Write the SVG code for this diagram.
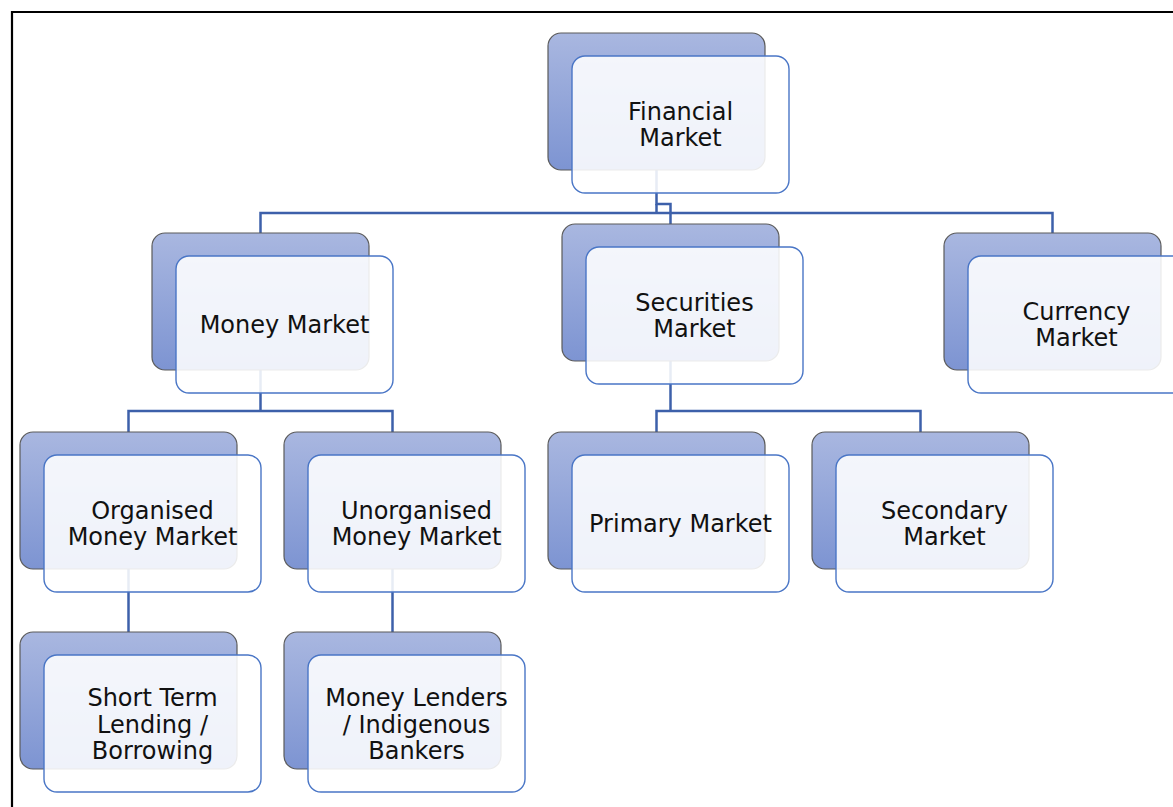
<svg xmlns="http://www.w3.org/2000/svg" width="1173" height="807" viewBox="0 0 1173 807">
<defs>
<linearGradient id="bg" x1="0" y1="0" x2="0" y2="1">
<stop offset="0" stop-color="#a9b7e0"/>
<stop offset="1" stop-color="#7d94d2"/>
</linearGradient>
</defs>
<style>
.back{fill:url(#bg);stroke:#5b5b5b;stroke-width:1.2}
.front{fill:#ffffff;fill-opacity:0.88;stroke:#4a76c6;stroke-width:1.4}
.conn{fill:none;stroke:#3d60aa;stroke-width:2.5}
text{font-family:"DejaVu Sans",Verdana,sans-serif;font-size:24px;fill:#111;text-anchor:middle}
</style>
<rect width="1173" height="807" fill="#fff"/>
<path d="M12,807 V12 H1173" fill="none" stroke="#000" stroke-width="2.2"/>
<g id="connectors" class="conn">
<path d="M656.5,170 V204 H670.5 V224"/>
<path d="M656.5,204 V213"/>
<path d="M260.5,233 V213 H1052.5 V233"/>
<path d="M260.5,370 V411"/>
<path d="M128.5,432 V411 H392.5 V432"/>
<path d="M670.5,361 V411"/>
<path d="M656.5,432 V411 H920.5 V432"/>
<path d="M128.5,569 V632"/>
<path d="M392.5,569 V632"/>
</g>
<g id="financial-market">
<rect class="back" x="548" y="33" width="217" height="137" rx="13"/>
<rect class="front" x="572" y="56" width="217" height="137" rx="13"/>
<text x="680.5" y="119.5">Financial</text>
<text x="680.5" y="146">Market</text>
</g>
<g id="money-market">
<rect class="back" x="152" y="233" width="217" height="137" rx="13"/>
<rect class="front" x="176" y="256" width="217" height="137" rx="13"/>
<text x="284.5" y="333">Money Market</text>
</g>
<g id="securities-market">
<rect class="back" x="562" y="224" width="217" height="137" rx="13"/>
<rect class="front" x="586" y="247" width="217" height="137" rx="13"/>
<text x="694.5" y="310.5">Securities</text>
<text x="694.5" y="337">Market</text>
</g>
<g id="currency-market">
<rect class="back" x="944" y="233" width="217" height="137" rx="13"/>
<rect class="front" x="968" y="256" width="217" height="137" rx="13"/>
<text x="1076.5" y="319.5">Currency</text>
<text x="1076.5" y="346">Market</text>
</g>
<g id="organised-money-market">
<rect class="back" x="20" y="432" width="217" height="137" rx="13"/>
<rect class="front" x="44" y="455" width="217" height="137" rx="13"/>
<text x="152.5" y="518.5">Organised</text>
<text x="152.5" y="545">Money Market</text>
</g>
<g id="unorganised-money-market">
<rect class="back" x="284" y="432" width="217" height="137" rx="13"/>
<rect class="front" x="308" y="455" width="217" height="137" rx="13"/>
<text x="416.5" y="518.5">Unorganised</text>
<text x="416.5" y="545">Money Market</text>
</g>
<g id="primary-market">
<rect class="back" x="548" y="432" width="217" height="137" rx="13"/>
<rect class="front" x="572" y="455" width="217" height="137" rx="13"/>
<text x="680.5" y="532">Primary Market</text>
</g>
<g id="secondary-market">
<rect class="back" x="812" y="432" width="217" height="137" rx="13"/>
<rect class="front" x="836" y="455" width="217" height="137" rx="13"/>
<text x="944.5" y="518.5">Secondary</text>
<text x="944.5" y="545">Market</text>
</g>
<g id="short-term-lending">
<rect class="back" x="20" y="632" width="217" height="137" rx="13"/>
<rect class="front" x="44" y="655" width="217" height="137" rx="13"/>
<text x="152.5" y="706">Short Term</text>
<text x="152.5" y="732.5">Lending /</text>
<text x="152.5" y="759">Borrowing</text>
</g>
<g id="money-lenders">
<rect class="back" x="284" y="632" width="217" height="137" rx="13"/>
<rect class="front" x="308" y="655" width="217" height="137" rx="13"/>
<text x="416.5" y="706">Money Lenders</text>
<text x="416.5" y="732.5">/ Indigenous</text>
<text x="416.5" y="759">Bankers</text>
</g>
</svg>
